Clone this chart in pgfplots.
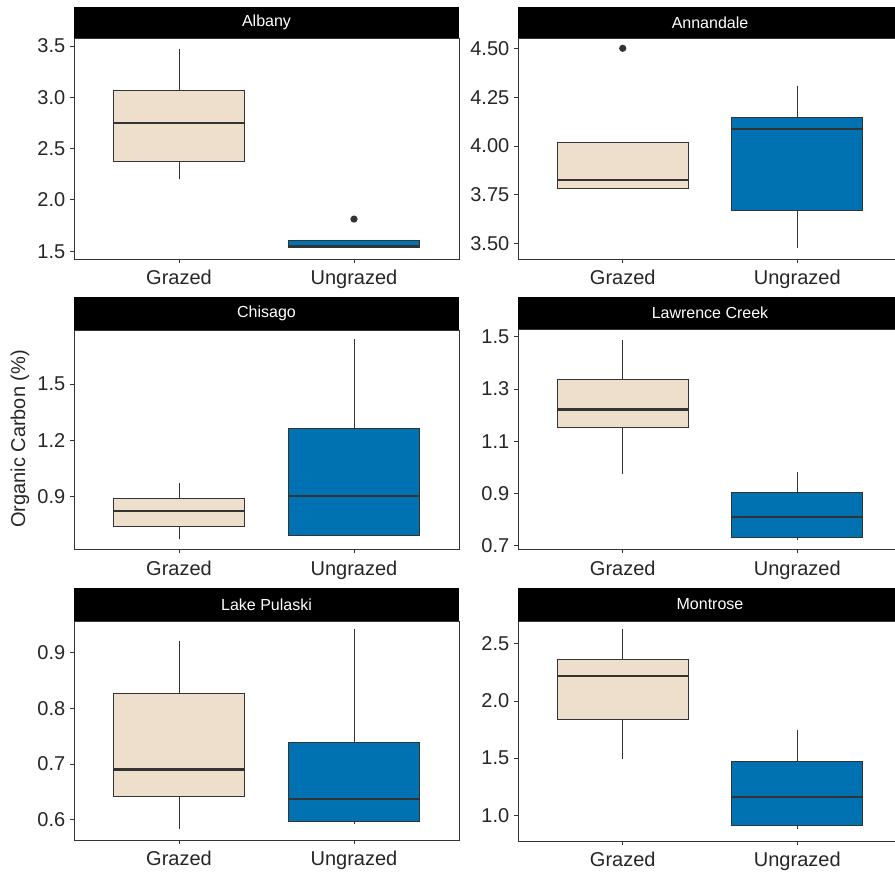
\documentclass[border=0pt]{standalone}
\usepackage{pgfplots}
\pgfplotsset{compat=1.18}
\usepgfplotslibrary{statistics}
\usepackage{fontspec}
\setmainfont{Liberation Sans}
\definecolor{beige}{HTML}{EEDFCC}
\definecolor{okblue}{HTML}{0072B2}
\definecolor{dk}{HTML}{333333}

\pgfplotsset{
  every axis title shift=0pt,
  facet/.style={
    scale only axis, anchor=south west,
    xmin=0.4, xmax=2.6, xtick={1,2}, xticklabels={Grazed,Ungrazed},
    tick pos=left, tick align=outside, major tick length=3pt,
    axis line style={black!80, line width=0.75pt},
    every tick/.style={black!80, line width=0.75pt},
    tick label style={font=\fontsize{15}{18}\selectfont, text=black!85},
    xticklabel style={yshift=-2pt},
    /pgf/number format/assume math mode=true,
    /pgf/number format/fixed, /pgf/number format/fixed zerofill,
    /pgf/number format/precision=1,
    yticklabel style={/pgf/number format/precision=1},
    title style={at={(0.5,1)}, anchor=south, yshift=0pt, fill=black, text=white,
      inner sep=0pt, font=\fontsize{12}{14}\selectfont},
    boxplot/draw direction=y,
    boxplot/box extend=0.75,
    boxplot/whisker extend=0,
    boxplot/every median/.style={draw=dk, line width=1.7pt},
    boxplot/every whisker/.style={draw=dk, line width=0.6pt},
    boxplot/every box/.style={draw=dk, line width=0.75pt},
  },
  gz/.style={fill=beige, draw=dk, line width=0.75pt, mark=*, mark size=2.3pt, mark options={fill=dk, draw=dk}},
  ug/.style={fill=okblue, draw=dk, line width=0.75pt, mark=*, mark size=2.3pt, mark options={fill=dk, draw=dk}},
}

\begin{document}
\begin{tikzpicture}
% ---------- Albany ----------
\begin{axis}[facet, at={(55.5pt,-194.25pt)}, width=288.75pt, height=165.5pt,
  ymin=1.425, ymax=3.575, ytick={1.5,2.0,2.5,3.0,3.5},
  title={Albany}, title style={minimum width=288.75pt, minimum height=23.5pt}]
\addplot[gz, boxplot prepared={draw position=1, lower whisker=2.206, lower quartile=2.375, median=2.751, upper quartile=3.066, upper whisker=3.475}] coordinates {};
\addplot[ug, boxplot prepared={draw position=2, lower whisker=1.54, lower quartile=1.54, median=1.547, upper quartile=1.61, upper whisker=1.61}] table[row sep=\\, y index=0] {data\\ 1.814\\};
\end{axis}
% ---------- Annandale ----------
\begin{axis}[facet, at={(388.5pt,-194.25pt)}, width=288pt, height=165.5pt,
  ymin=3.422, ymax=4.551, ytick={3.5,3.75,4.0,4.25,4.5},
  yticklabel style={/pgf/number format/precision=2},
  title={Annandale}, title style={minimum width=288pt, minimum height=23.5pt}]
\addplot[gz, boxplot prepared={draw position=1, lower whisker=3.783, lower quartile=3.783, median=3.828, upper quartile=4.018, upper whisker=4.018}] table[row sep=\\, y index=0] {data\\ 4.50\\};
\addplot[ug, boxplot prepared={draw position=2, lower whisker=3.476, lower quartile=3.669, median=4.089, upper quartile=4.146, upper whisker=4.309}] coordinates {};
\end{axis}
% ---------- Chisago ----------
\begin{axis}[facet, at={(55.5pt,-412pt)}, width=288.75pt, height=164.5pt,
  ymin=0.620, ymax=1.788, ytick={0.9,1.2,1.5},
  title={Chisago}, title style={minimum width=288.75pt, minimum height=24.5pt}]
\addplot[gz, boxplot prepared={draw position=1, lower whisker=0.673, lower quartile=0.744, median=0.825, upper quartile=0.891, upper whisker=0.971}] coordinates {};
\addplot[ug, boxplot prepared={draw position=2, lower whisker=0.696, lower quartile=0.696, median=0.903, upper quartile=1.262, upper whisker=1.738}] coordinates {};
\end{axis}
% ---------- Lawrence Creek ----------
\begin{axis}[facet, at={(388.5pt,-412pt)}, width=288pt, height=164.8pt,
  ymin=0.686, ymax=1.528, ytick={0.7,0.9,1.1,1.3,1.5},
  title={Lawrence Creek}, title style={minimum width=288pt, minimum height=24.5pt}]
\addplot[gz, boxplot prepared={draw position=1, lower whisker=0.974, lower quartile=1.153, median=1.222, upper quartile=1.338, upper whisker=1.49}] coordinates {};
\addplot[ug, boxplot prepared={draw position=2, lower whisker=0.723, lower quartile=0.733, median=0.811, upper quartile=0.904, upper whisker=0.981}] coordinates {};
\end{axis}
% ---------- Lake Pulaski ----------
\begin{axis}[facet, at={(55.5pt,-630pt)}, width=288.75pt, height=164.25pt,
  ymin=0.564, ymax=0.956, ytick={0.6,0.7,0.8,0.9},
  title={Lake Pulaski}, title style={minimum width=288.75pt, minimum height=24.5pt}]
\addplot[gz, boxplot prepared={draw position=1, lower whisker=0.583, lower quartile=0.642, median=0.690, upper quartile=0.826, upper whisker=0.920}] coordinates {};
\addplot[ug, boxplot prepared={draw position=2, lower whisker=0.593, lower quartile=0.598, median=0.637, upper quartile=0.738, upper whisker=0.941}] coordinates {};
\end{axis}
% ---------- Montrose ----------
\begin{axis}[facet, at={(388.5pt,-630.75pt)}, width=288pt, height=165pt,
  ymin=0.775, ymax=2.701, ytick={1.0,1.5,2.0,2.5},
  title={Montrose}, title style={minimum width=288pt, minimum height=24.5pt}]
\addplot[gz, boxplot prepared={draw position=1, lower whisker=1.494, lower quartile=1.836, median=2.220, upper quartile=2.360, upper whisker=2.629}] coordinates {};
\addplot[ug, boxplot prepared={draw position=2, lower whisker=0.877, lower quartile=0.912, median=1.160, upper quartile=1.474, upper whisker=1.743}] coordinates {};
\end{axis}
\node[rotate=90, font=\fontsize{15}{18}\selectfont, text=black!85] at (15pt,-329.25pt) {Organic Carbon (\%)};
\pgfresetboundingbox
\useasboundingbox (0pt,0pt) rectangle (671.25pt,-656.25pt);
\end{tikzpicture}
\end{document}
